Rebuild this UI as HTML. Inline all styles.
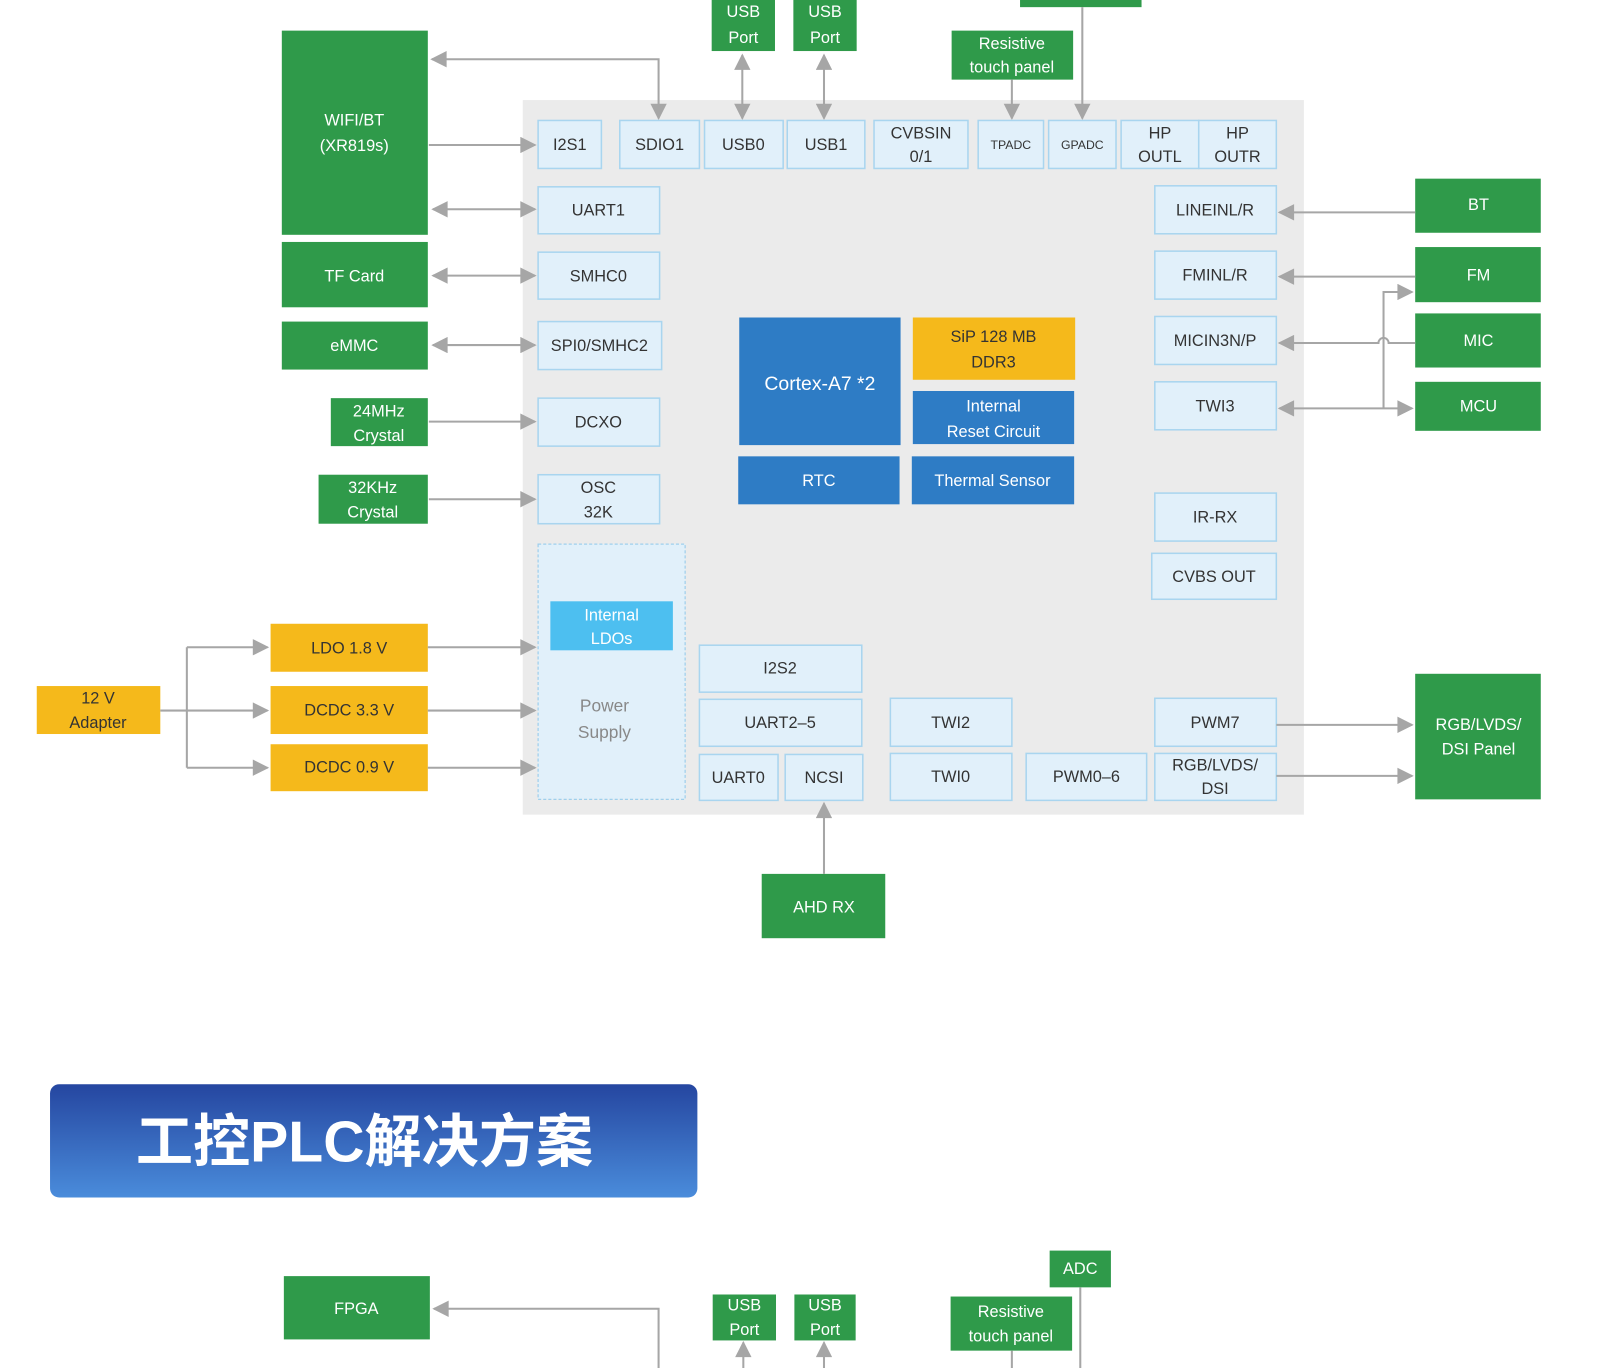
<!DOCTYPE html>
<html><head><meta charset="utf-8"><style>
html,body{margin:0;padding:0;background:#fff;}
svg{display:block}
text{font-family:"Liberation Sans","Noto Sans CJK SC",sans-serif;text-anchor:middle;dominant-baseline:central}
.g{fill:#2f9a4a}
.l{fill:#e1f0fa;stroke:#a9d5ef;stroke-width:1.5}
.o{fill:#f5b91b}
.b{fill:#2e7cc5}
.tw{fill:#fff;font-size:16px}
.td{fill:#333;font-size:16px}
.ln{stroke:#a6a6a6;stroke-width:2;fill:none}
</style></head><body>
<svg width="1600" height="1368" viewBox="0 0 1567 1340" preserveAspectRatio="none" xmlns="http://www.w3.org/2000/svg">
<defs>
<marker id="A" viewBox="0 0 10 10" refX="9" refY="5" markerWidth="18" markerHeight="16" orient="auto-start-reverse" markerUnits="userSpaceOnUse"><path d="M0,0L10,5L0,10z" fill="#a6a6a6"/></marker>
<linearGradient id="bn" x1="0" y1="0" x2="0" y2="1"><stop offset="0" stop-color="#2546a0"/><stop offset="1" stop-color="#4a8cdb"/></linearGradient>
</defs>
<rect x="512" y="98" width="765" height="700" fill="#ebebeb"/>

<rect class="g" x="697" y="-4" width="62" height="54"/><text class="tw" x="728" y="12">USB</text><text class="tw" x="728" y="37">Port</text>
<rect class="g" x="777" y="-4" width="62" height="54"/><text class="tw" x="808" y="12">USB</text><text class="tw" x="808" y="37">Port</text>
<rect class="g" x="999" y="-10" width="119" height="17"/>
<rect class="g" x="932" y="30" width="119" height="48"/><text class="tw" x="991" y="43">Resistive</text><text class="tw" x="991" y="66">touch panel</text>
<line class="ln" x1="727" y1="54" x2="727" y2="116" marker-start="url(#A)" marker-end="url(#A)"/>
<line class="ln" x1="807" y1="54" x2="807" y2="116" marker-start="url(#A)" marker-end="url(#A)"/>
<line class="ln" x1="991" y1="78" x2="991" y2="116" marker-end="url(#A)"/>
<line class="ln" x1="1060" y1="7" x2="1060" y2="116" marker-end="url(#A)"/>
<polyline class="ln" points="423,58 645,58 645,116" marker-start="url(#A)" marker-end="url(#A)"/>

<rect class="l" x="527" y="118" width="62" height="47"/><text class="td" x="558" y="142">I2S1</text>
<rect class="l" x="607" y="118" width="78" height="47"/><text class="td" x="646" y="142">SDIO1</text>
<rect class="l" x="690" y="118" width="77" height="47"/><text class="td" x="728" y="142">USB0</text>
<rect class="l" x="771" y="118" width="76" height="47"/><text class="td" x="809" y="142">USB1</text>
<rect class="l" x="856" y="118" width="92" height="47"/><text class="td" x="902" y="131">CVBSIN</text><text class="td" x="902" y="154">0/1</text>
<rect class="l" x="958" y="118" width="64" height="47"/><text class="td" x="990" y="142" style="font-size:12px">TPADC</text>
<rect class="l" x="1027" y="118" width="66" height="47"/><text class="td" x="1060" y="142" style="font-size:12px">GPADC</text>
<rect class="l" x="1098" y="118" width="76" height="47"/><text class="td" x="1136" y="131">HP</text><text class="td" x="1136" y="154">OUTL</text>
<rect class="l" x="1174" y="118" width="76" height="47"/><text class="td" x="1212" y="131">HP</text><text class="td" x="1212" y="154">OUTR</text>

<rect class="g" x="276" y="30" width="143" height="200"/><text class="tw" x="347" y="118">WIFI/BT</text><text class="tw" x="347" y="143">(XR819s)</text>
<rect class="g" x="276" y="237" width="143" height="64"/><text class="tw" x="347" y="271">TF Card</text>
<rect class="g" x="276" y="315" width="143" height="47"/><text class="tw" x="347" y="339">eMMC</text>
<rect class="g" x="324" y="390" width="95" height="47"/><text class="tw" x="371" y="403">24MHz</text><text class="tw" x="371" y="427">Crystal</text>
<rect class="g" x="312" y="465" width="107" height="48"/><text class="tw" x="365" y="478">32KHz</text><text class="tw" x="365" y="502">Crystal</text>
<line class="ln" x1="420" y1="142" x2="524" y2="142" marker-end="url(#A)"/>
<line class="ln" x1="424" y1="205" x2="524" y2="205" marker-start="url(#A)" marker-end="url(#A)"/>
<line class="ln" x1="424" y1="270" x2="524" y2="270" marker-start="url(#A)" marker-end="url(#A)"/>
<line class="ln" x1="424" y1="338" x2="524" y2="338" marker-start="url(#A)" marker-end="url(#A)"/>
<line class="ln" x1="420" y1="413" x2="524" y2="413" marker-end="url(#A)"/>
<line class="ln" x1="420" y1="489" x2="524" y2="489" marker-end="url(#A)"/>

<rect class="l" x="527" y="183" width="119" height="46"/><text class="td" x="586" y="206">UART1</text>
<rect class="l" x="527" y="247" width="119" height="46"/><text class="td" x="586" y="271">SMHC0</text>
<rect class="l" x="527" y="315" width="121" height="47"/><text class="td" x="587" y="339">SPI0/SMHC2</text>
<rect class="l" x="527" y="390" width="119" height="47"/><text class="td" x="586" y="414">DCXO</text>
<rect class="l" x="527" y="465" width="119" height="48"/><text class="td" x="586" y="478">OSC</text><text class="td" x="586" y="502">32K</text>

<rect x="527" y="533" width="144" height="250" fill="#e1f0fa" stroke="#9fcfec" stroke-width="1.2" stroke-dasharray="3,2"/>
<rect x="539" y="589" width="120" height="48" fill="#4dbff0"/><text class="tw" x="599" y="603">Internal</text><text class="tw" x="599" y="626">LDOs</text>
<text x="592" y="691" style="fill:#888;font-size:17px">Power</text><text x="592" y="717" style="fill:#888;font-size:17px">Supply</text>
<rect class="o" x="265" y="611" width="154" height="47"/><text class="td" x="342" y="635">LDO 1.8 V</text>
<rect class="o" x="265" y="672" width="154" height="47"/><text class="td" x="342" y="696">DCDC 3.3 V</text>
<rect class="o" x="265" y="729" width="154" height="46"/><text class="td" x="342" y="752">DCDC 0.9 V</text>
<rect class="o" x="36" y="672" width="121" height="47"/><text class="td" x="96" y="684">12 V</text><text class="td" x="96" y="708">Adapter</text>
<line class="ln" x1="157" y1="696" x2="183" y2="696"/>
<line class="ln" x1="183" y1="634" x2="183" y2="752"/>
<line class="ln" x1="183" y1="634" x2="262" y2="634" marker-end="url(#A)"/>
<line class="ln" x1="183" y1="696" x2="262" y2="696" marker-end="url(#A)"/>
<line class="ln" x1="183" y1="752" x2="262" y2="752" marker-end="url(#A)"/>
<line class="ln" x1="419" y1="634" x2="524" y2="634" marker-end="url(#A)"/>
<line class="ln" x1="419" y1="696" x2="524" y2="696" marker-end="url(#A)"/>
<line class="ln" x1="419" y1="752" x2="524" y2="752" marker-end="url(#A)"/>

<rect class="l" x="685" y="632" width="159" height="46"/><text class="td" x="764" y="655">I2S2</text>
<rect class="l" x="685" y="685" width="159" height="46"/><text class="td" x="764" y="708">UART2–5</text>
<rect class="l" x="685" y="739" width="77" height="45"/><text class="td" x="723" y="762">UART0</text>
<rect class="l" x="769" y="739" width="76" height="45"/><text class="td" x="807" y="762">NCSI</text>
<rect class="l" x="872" y="684" width="119" height="47"/><text class="td" x="931" y="708">TWI2</text>
<rect class="l" x="872" y="738" width="119" height="46"/><text class="td" x="931" y="761">TWI0</text>
<rect class="l" x="1005" y="738" width="118" height="46"/><text class="td" x="1064" y="761">PWM0–6</text>
<rect class="l" x="1131" y="684" width="119" height="47"/><text class="td" x="1190" y="708">PWM7</text>
<rect class="l" x="1131" y="738" width="119" height="46"/><text class="td" x="1190" y="750">RGB/LVDS/</text><text class="td" x="1190" y="773">DSI</text>
<rect class="g" x="746" y="856" width="121" height="63"/><text class="tw" x="807" y="889">AHD RX</text>
<line class="ln" x1="807" y1="856" x2="807" y2="787" marker-end="url(#A)"/>
<rect class="g" x="1386" y="660" width="123" height="123"/><text class="tw" x="1448" y="710">RGB/LVDS/</text><text class="tw" x="1448" y="734">DSI Panel</text>
<line class="ln" x1="1250" y1="710" x2="1383" y2="710" marker-end="url(#A)"/>
<line class="ln" x1="1250" y1="760" x2="1383" y2="760" marker-end="url(#A)"/>

<rect class="b" x="724" y="311" width="158" height="125"/><text class="tw" x="803" y="376" style="font-size:19px">Cortex-A7 *2</text>
<rect class="o" x="894" y="311" width="159" height="61"/><text class="td" x="973" y="330">SiP 128 MB</text><text class="td" x="973" y="355">DDR3</text>
<rect class="b" x="894" y="383" width="158" height="52"/><text class="tw" x="973" y="398">Internal</text><text class="tw" x="973" y="423">Reset Circuit</text>
<rect class="b" x="723" y="447" width="158" height="47"/><text class="tw" x="802" y="471">RTC</text>
<rect class="b" x="893" y="447" width="159" height="47"/><text class="tw" x="972" y="471">Thermal Sensor</text>

<rect class="l" x="1131" y="182" width="119" height="47"/><text class="td" x="1190" y="206">LINEINL/R</text>
<rect class="l" x="1131" y="246" width="119" height="47"/><text class="td" x="1190" y="270">FMINL/R</text>
<rect class="l" x="1131" y="310" width="119" height="47"/><text class="td" x="1190" y="334">MICIN3N/P</text>
<rect class="l" x="1131" y="374" width="119" height="47"/><text class="td" x="1190" y="398">TWI3</text>
<rect class="l" x="1131" y="483" width="119" height="47"/><text class="td" x="1190" y="507">IR-RX</text>
<rect class="l" x="1128" y="542" width="122" height="45"/><text class="td" x="1189" y="565">CVBS OUT</text>
<rect class="g" x="1386" y="175" width="123" height="53"/><text class="tw" x="1448" y="201">BT</text>
<rect class="g" x="1386" y="242" width="123" height="54"/><text class="tw" x="1448" y="270">FM</text>
<rect class="g" x="1386" y="307" width="123" height="53"/><text class="tw" x="1448" y="334">MIC</text>
<rect class="g" x="1386" y="374" width="123" height="48"/><text class="tw" x="1448" y="398">MCU</text>
<line class="ln" x1="1386" y1="208" x2="1253" y2="208" marker-end="url(#A)"/>
<line class="ln" x1="1386" y1="271" x2="1253" y2="271" marker-end="url(#A)"/>
<path class="ln" d="M1386,336 H1360 A5,5 0 0 0 1350,336 H1253" marker-end="url(#A)"/>
<line class="ln" x1="1253" y1="400" x2="1383" y2="400" marker-start="url(#A)" marker-end="url(#A)"/>
<polyline class="ln" points="1355,400 1355,286 1383,286" marker-end="url(#A)"/>

<rect x="49" y="1062" width="634" height="111" rx="9" fill="url(#bn)"/>
<text x="357" y="1119" style="fill:#fff;font-size:56px;font-weight:bold;font-family:'Liberation Sans','Noto Sans CJK SC',sans-serif">工控PLC解决方案</text>

<rect class="g" x="278" y="1250" width="143" height="62"/><text class="tw" x="349" y="1282">FPGA</text>
<polyline class="ln" points="425,1282 645,1282 645,1345" marker-start="url(#A)"/>
<rect class="g" x="698" y="1268" width="62" height="45"/><text class="tw" x="729" y="1279">USB</text><text class="tw" x="729" y="1303">Port</text>
<rect class="g" x="778" y="1268" width="60" height="45"/><text class="tw" x="808" y="1279">USB</text><text class="tw" x="808" y="1303">Port</text>
<line class="ln" x1="728" y1="1345" x2="728" y2="1315" marker-end="url(#A)"/>
<line class="ln" x1="807" y1="1345" x2="807" y2="1315" marker-end="url(#A)"/>
<rect class="g" x="1028" y="1225" width="60" height="36"/><text class="tw" x="1058" y="1243">ADC</text>
<rect class="g" x="931" y="1270" width="119" height="53"/><text class="tw" x="990" y="1285">Resistive</text><text class="tw" x="990" y="1309">touch panel</text>
<line class="ln" x1="991" y1="1323" x2="991" y2="1345"/>
<line class="ln" x1="1058" y1="1261" x2="1058" y2="1345"/>
</svg>
</body></html>
